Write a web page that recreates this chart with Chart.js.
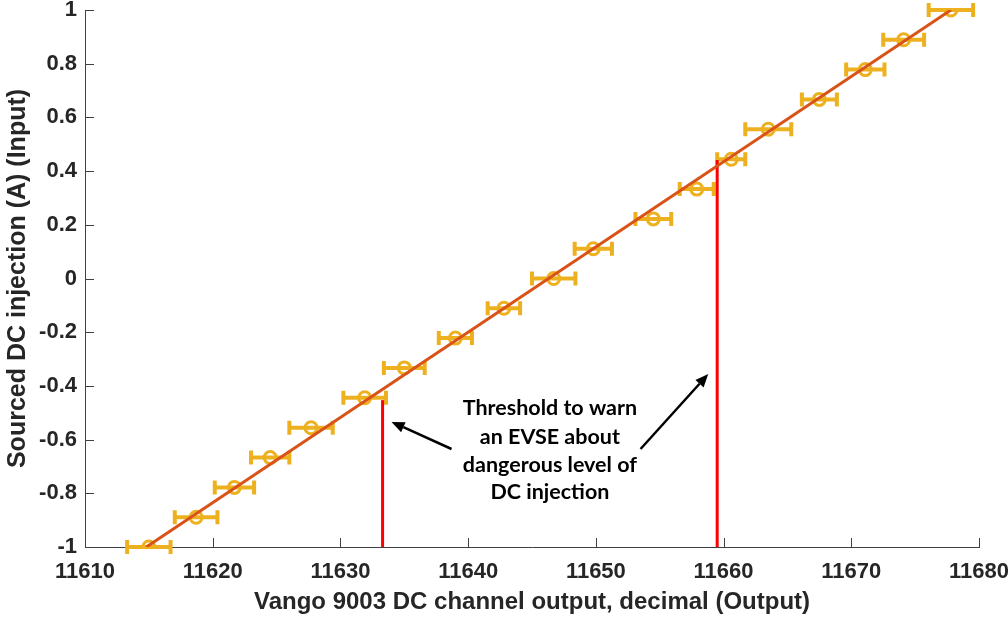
<!DOCTYPE html>
<html>
<head>
<meta charset="utf-8">
<script src="https://cdn.jsdelivr.net/npm/chart.js@4.4.1/dist/chart.umd.min.js"></script>
<style>
  html, body { margin: 0; padding: 0; background: #ffffff; }
  #wrap { width: 1008px; height: 620px; position: relative; }
</style>
</head>
<body>
<div id="wrap"><canvas id="c" width="1008" height="620"></canvas></div>
<script>
// ---- data ----
const outputDecimal = [11615.0, 11618.7, 11621.7, 11624.5, 11627.7, 11631.9, 11635.0, 11639.0, 11642.8, 11646.7,
                       11649.8, 11654.5, 11657.9, 11660.6, 11663.5, 11667.5, 11671.1, 11674.1, 11677.8];
const inputCurrent = [-1, -0.889, -0.778, -0.667, -0.556, -0.444, -0.333, -0.222, -0.111, 0,
                      0.111, 0.222, 0.333, 0.444, 0.556, 0.667, 0.778, 0.889, 1];
const outputError = [1.7, 1.67, 1.54, 1.5, 1.7, 1.67, 1.6, 1.3, 1.27, 1.7,
                     1.46, 1.4, 1.33, 1.1, 1.8, 1.37, 1.5, 1.6, 1.74];
const fitX = [11614.8, 11677.8];
const fitY = [-1, 1];
const thresholdX = [11633.3, 11659.5];
const thresholdTopY = [-0.453, 0.441];
const annotationLines = ['Threshold to warn', 'an EVSE about', 'dangerous level of', 'DC injection'];
const xTickValues = [11610, 11620, 11630, 11640, 11650, 11660, 11670, 11680];
const yTickValues = [-1, -0.8, -0.6, -0.4, -0.2, 0, 0.2, 0.4, 0.6, 0.8, 1];
const xTitle = 'Vango 9003 DC channel output, decimal (Output)';
const yTitle = 'Sourced DC injection (A) (Input)';

const TXT = '#262626';
const FONT = '"Liberation Sans", Arial, sans-serif';

const points = outputDecimal.map((x, i) => ({ x: x, y: inputCurrent[i] }));
const fitLine = fitX.map((x, i) => ({ x: x, y: fitY[i] }));

const errorBarPlugin = {
  id: 'errorBars',
  beforeDatasetsDraw(chart) {
    const ctx = chart.ctx, xs = chart.scales.x, ys = chart.scales.y;
    ctx.save();
    ctx.strokeStyle = '#EDB120';
    ctx.lineWidth = 4;
    outputDecimal.forEach((x, i) => {
      const y = ys.getPixelForValue(inputCurrent[i]);
      const x0 = xs.getPixelForValue(x - outputError[i]);
      const x1 = xs.getPixelForValue(x + outputError[i]);
      ctx.beginPath();
      ctx.moveTo(x0, y); ctx.lineTo(x1, y);
      ctx.moveTo(x0, y - 7); ctx.lineTo(x0, y + 7);
      ctx.moveTo(x1, y - 7); ctx.lineTo(x1, y + 7);
      ctx.stroke();
    });
    ctx.restore();
  }
};

function arrow(ctx, x0, y0, x1, y1) {
  const ang = Math.atan2(y1 - y0, x1 - x0);
  const L = 13, W = 5.5;
  const bx = x1 - L * Math.cos(ang), by = y1 - L * Math.sin(ang);
  ctx.beginPath();
  ctx.moveTo(x0, y0); ctx.lineTo(bx, by);
  ctx.stroke();
  ctx.beginPath();
  ctx.moveTo(x1, y1);
  ctx.lineTo(bx + W * Math.sin(ang), by - W * Math.cos(ang));
  ctx.lineTo(bx - W * Math.sin(ang), by + W * Math.cos(ang));
  ctx.closePath();
  ctx.fill();
}

const overlayPlugin = {
  id: 'overlay',
  afterDatasetsDraw(chart) {
    const ctx = chart.ctx, xs = chart.scales.x, ys = chart.scales.y;
    const a = chart.chartArea;
    ctx.save();
    // inward tick marks
    ctx.strokeStyle = '#404040';
    ctx.lineWidth = 1;
    ctx.beginPath();
    xTickValues.forEach(v => {
      const px = Math.round(xs.getPixelForValue(v)) + 0.5;
      ctx.moveTo(px, a.bottom); ctx.lineTo(px, a.bottom - 9);
    });
    yTickValues.forEach(v => {
      const py = Math.round(ys.getPixelForValue(v)) + 0.5;
      ctx.moveTo(a.left, py); ctx.lineTo(a.left + 9, py);
    });
    ctx.stroke();
    // annotation text
    ctx.fillStyle = '#000000';
    ctx.font = 'bold 21.5px Lato, "Open Sans", sans-serif';
    ctx.textAlign = 'center';
    ctx.textBaseline = 'middle';
    const cx = xs.getPixelForValue(11646.4);
    const lineYs = [-0.482, -0.590, -0.695, -0.795];
    annotationLines.forEach((t, i) => ctx.fillText(t, cx, ys.getPixelForValue(lineYs[i])));
    // arrows
    ctx.strokeStyle = '#000000';
    ctx.lineWidth = 2.5;
    arrow(ctx, xs.getPixelForValue(11638.7), ys.getPixelForValue(-0.635),
               xs.getPixelForValue(11634.0), ys.getPixelForValue(-0.534));
    arrow(ctx, xs.getPixelForValue(11653.5), ys.getPixelForValue(-0.635),
               xs.getPixelForValue(11658.8), ys.getPixelForValue(-0.356));
    ctx.restore();
  }
};

new Chart(document.getElementById('c'), {
  type: 'scatter',
  data: {
    datasets: [
      {
        type: 'line', data: fitLine, borderColor: '#D95319', borderWidth: 3,
        pointRadius: 0, fill: false, tension: 0
      },
      {
        data: points, pointStyle: 'circle', pointRadius: 6, borderColor: '#EDB120',
        pointBorderWidth: 3, backgroundColor: 'rgba(0,0,0,0)', showLine: false
      },
      {
        type: 'line', data: [{ x: thresholdX[0], y: -1 }, { x: thresholdX[0], y: thresholdTopY[0] }],
        borderColor: '#FF0000', borderWidth: 3, pointRadius: 0, fill: false
      },
      {
        type: 'line', data: [{ x: thresholdX[1], y: -1 }, { x: thresholdX[1], y: thresholdTopY[1] }],
        borderColor: '#FF0000', borderWidth: 3, pointRadius: 0, fill: false
      }
    ]
  },
  options: {
    responsive: false,
    animation: false,
    layout: { padding: { top: 10, right: 29, left: 0, bottom: 0 } },
    plugins: { legend: { display: false }, tooltip: { enabled: false } },
    scales: {
      x: {
        type: 'linear', min: 11610, max: 11680,
        afterBuildTicks: s => { s.ticks = xTickValues.map(v => ({ value: v })); },
        afterFit: s => { s.height = 73; s.paddingLeft = 0; s.paddingRight = 0; },
        grid: { display: true, drawOnChartArea: false, drawTicks: false },
        border: { display: true, color: '#404040', width: 1 },
        ticks: { color: TXT, font: { family: FONT, size: 22, weight: 'bold' }, padding: 12, maxRotation: 0,
                 callback: v => String(v) },
        title: { display: true, text: xTitle, color: TXT, font: { family: FONT, size: 24, weight: 'bold' },
                 padding: { top: 0, bottom: 3 } }
      },
      y: {
        type: 'linear', min: -1, max: 1,
        afterBuildTicks: s => { s.ticks = yTickValues.map(v => ({ value: v })); },
        afterFit: s => { s.width = 85; s.paddingTop = 0; s.paddingBottom = 0; },
        grid: { display: true, drawOnChartArea: false, drawTicks: false },
        border: { display: true, color: '#404040', width: 1 },
        ticks: { color: TXT, font: { family: FONT, size: 22, weight: 'bold' }, padding: 8,
                 callback: v => String(Math.round(v * 10) / 10) },
        title: { display: true, text: yTitle, color: TXT, font: { family: FONT, size: 25, weight: 'bold' },
                 padding: { top: 3, bottom: 0 } }
      }
    }
  },
  plugins: [errorBarPlugin, overlayPlugin]
});
</script>
</body>
</html>
